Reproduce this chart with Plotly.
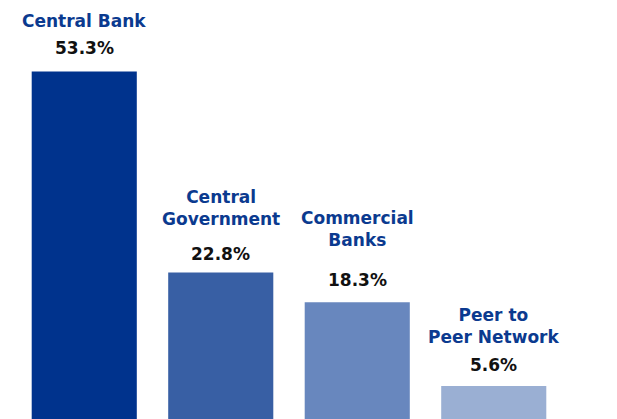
import plotly.graph_objects as go

# Share of holdings by holder type (%)
categories = ["Central Bank", "Central<br>Government", "Commercial<br>Banks", "Peer to<br>Peer Network"]
shares = [53.3, 22.8, 18.3, 5.6]
value_labels = ["53.3%", "22.8%", "18.3%", "5.6%"]

bar_colors = ["#00338D", "#385FA4", "#6887BE", "#9AAFD3"]
label_blue = "#0B3A8F"
font_family = "DejaVu Sans"

# pixel offsets above each bar top for the value and category labels
value_shift = [23, 19, 22, 21]
category_shift = [50, 65, 73, 60]

x_pos = list(range(len(categories)))

fig = go.Figure(
    go.Bar(
        x=x_pos,
        y=shares,
        width=0.77,
        marker=dict(color=bar_colors, line=dict(width=0)),
        hoverinfo="skip",
    )
)

annotations = []
for i, (cat, val, txt) in enumerate(zip(categories, shares, value_labels)):
    annotations.append(dict(
        x=i, y=val, xref="x", yref="y", text="<b>%s</b>" % txt,
        showarrow=False, yanchor="middle", yshift=value_shift[i],
        font=dict(family=font_family, size=17, color="#111111"),
    ))
    annotations.append(dict(
        x=i, y=val, xref="x", yref="y", text="<b>%s</b>" % cat,
        showarrow=False, yanchor="middle", yshift=category_shift[i],
        font=dict(family=font_family, size=17, color=label_blue),
    ))

fig.update_layout(
    width=617,
    height=419,
    margin=dict(l=16, r=55, t=0, b=0),
    paper_bgcolor="white",
    plot_bgcolor="white",
    showlegend=False,
    annotations=annotations,
    xaxis=dict(range=[-0.5, 3.5], visible=False, fixedrange=True),
    yaxis=dict(range=[0.58, 64.13], visible=False, fixedrange=True),
)

fig.write_html("out.html", config={"displayModeBar": False})
